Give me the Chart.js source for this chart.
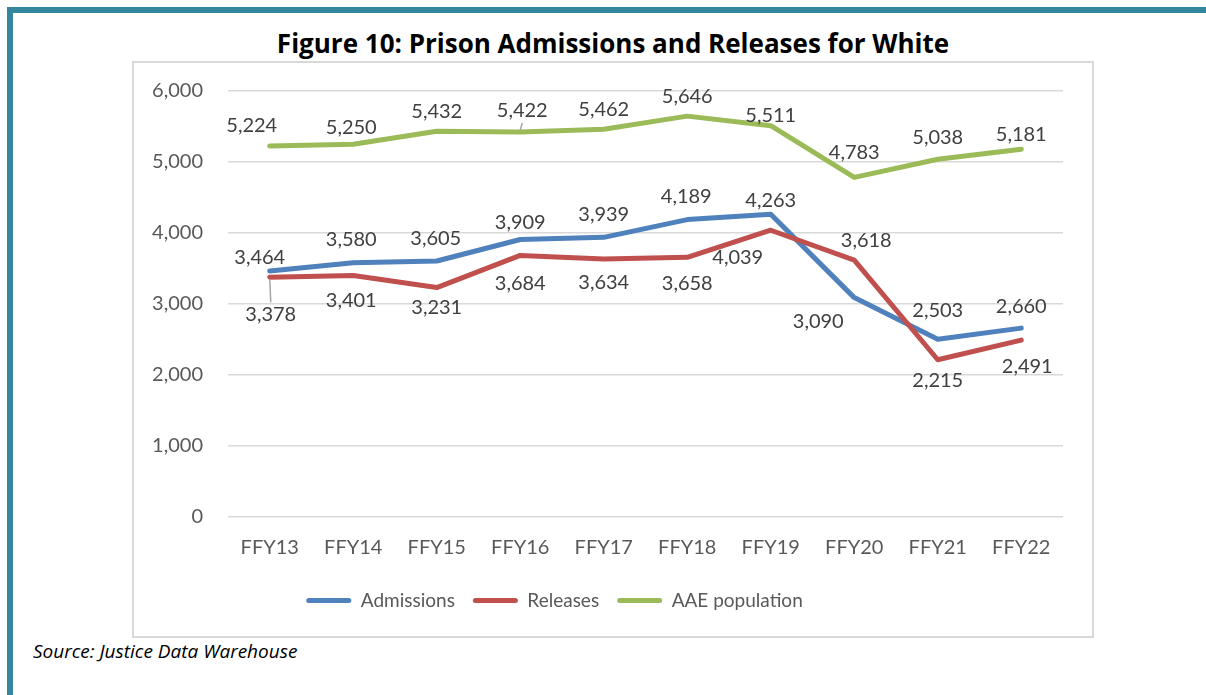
<!DOCTYPE html>
<html>
<head>
<meta charset="utf-8">
<script src="https://cdn.jsdelivr.net/npm/chart.js@4.4.1/dist/chart.umd.min.js"></script>
<style>
  body { margin: 0; background: #fff; width: 1206px; height: 695px; overflow: hidden; position: relative; font-family: Lato, sans-serif; }
  .frame { position: absolute; left: 7px; top: 7px; right: -10px; bottom: -10px; border-top: 6px solid #33869D; border-left: 6px solid #33869D; }
  .title { position: absolute; left: 132px; width: 962px; top: 25px; text-align: center; font-family: 'Open Sans', sans-serif; font-weight: bold; font-size: 26px; color: #000; line-height: 36px; }
  .box { position: absolute; left: 132px; top: 61px; width: 958px; height: 573px; border: 2px solid #D9D9D9; }
  .source { position: absolute; left: 33px; top: 638px; font-family: 'Open Sans', sans-serif; font-style: italic; font-size: 19px; color: #000; line-height: 26px; }
</style>
</head>
<body>
<div class="frame"></div>
<div class="title">Figure 10: Prison Admissions and Releases for White</div>
<div class="box"><canvas id="chart"></canvas></div>
<div class="source">Source: Justice Data Warehouse</div>
<script>
// data
const categories = ['FFY13', 'FFY14', 'FFY15', 'FFY16', 'FFY17', 'FFY18', 'FFY19', 'FFY20', 'FFY21', 'FFY22'];
const admissions = [3464, 3580, 3605, 3909, 3939, 4189, 4263, 3090, 2503, 2660];
const releases = [3378, 3401, 3231, 3684, 3634, 3658, 4039, 3618, 2215, 2491];
const aaePopulation = [5224, 5250, 5432, 5422, 5462, 5646, 5511, 4783, 5038, 5181];

// label placement (dx, dy from the point, leader line)
const labelOffsets = [
    [[-10, -14], [-2, -23], [-1, -22], [0, -17], [0, -23], [-1, -23], [0, -14], [-36, 24], [0, -29], [0, -22]],
    [[1, 37, true], [-2, 25], [0, 20], [0, 28], [0, 24], [0, 26], [-33, 27], [12, -20], [0, 21], [6, 26]],
    [[-18, -21], [-2, -17], [0, -20], [2, -21, true], [0, -20], [0, -20], [0, -10], [0, -25], [0, -22], [0, -15]]
];

const valueLabels = {
    id: 'valueLabels',
    afterDatasetsDraw(chart) {
        const ctx = chart.ctx;
        ctx.save();
        ctx.font = '20px Lato';
        ctx.fillStyle = '#404040';
        ctx.textAlign = 'center';
        ctx.textBaseline = 'middle';
        chart.data.datasets.forEach((ds, di) => {
            const meta = chart.getDatasetMeta(di);
            meta.data.forEach((pt, i) => {
                const off = labelOffsets[di][i];
                const lx = pt.x + off[0];
                const ly = pt.y + off[1];
                if (off[2]) {
                    const s = off[1] > 0 ? 1 : -1;
                    ctx.strokeStyle = '#A6A6A6';
                    ctx.lineWidth = 1.5;
                    ctx.beginPath();
                    ctx.moveTo(pt.x, pt.y + s * 2);
                    ctx.lineTo(lx, ly - s * 12);
                    ctx.stroke();
                }
                ctx.fillText(ds.data[i].toLocaleString('en-US'), lx, ly);
            });
        });
        ctx.restore();
    }
};

// legend sits left of centre in the original
const legendShift = {
    id: 'legendShift',
    afterLayout(chart) {
        chart.legend.left -= 44;
        chart.legend.right -= 44;
    }
};

const ctx = document.getElementById('chart').getContext('2d');
new Chart(ctx, {
    type: 'line',
    data: {
        labels: categories,
        datasets: [
            { label: 'Admissions', data: admissions, borderColor: '#4F81BD', backgroundColor: '#4F81BD', order: 3 },
            { label: 'Releases', data: releases, borderColor: '#C0504D', backgroundColor: '#C0504D', order: 2 },
            { label: 'AAE population', data: aaePopulation, borderColor: '#9BBB59', backgroundColor: '#9BBB59', order: 1 }
        ]
    },
    options: {
        responsive: true,
        maintainAspectRatio: false,
        animation: false,
        layout: { padding: { left: 0, right: 29, top: 28, bottom: 16 } },
        elements: {
            line: { borderWidth: 5, tension: 0, borderCapStyle: 'round', borderJoinStyle: 'round' },
            point: { radius: 0, hoverRadius: 0 }
        },
        scales: {
            x: {
                offset: true,
                afterFit: (scale) => { scale.height = 56; },
                grid: { display: false, drawTicks: false },
                border: { display: false },
                ticks: { color: '#595959', font: { family: 'Lato', size: 20 }, padding: 19, maxRotation: 0 }
            },
            y: {
                min: 0,
                max: 6000,
                afterFit: (scale) => { scale.width = 94; scale.paddingTop = 0; scale.paddingBottom = 0; },
                grid: { color: '#D9D9D9', lineWidth: 1.5, drawTicks: false },
                border: { display: false },
                ticks: {
                    stepSize: 1000,
                    color: '#595959',
                    font: { family: 'Lato', size: 20 },
                    padding: 25,
                    callback: (v) => v.toLocaleString('en-US')
                }
            }
        },
        plugins: {
            legend: {
                position: 'bottom',
                labels: {
                    color: '#595959',
                    font: { family: 'Lato', size: 19 },
                    boxWidth: 45,
                    boxHeight: 5,
                    padding: 18,
                    useBorderRadius: true,
                    borderRadius: 2.5,
                    sort: (a, b) => a.datasetIndex - b.datasetIndex,
                    generateLabels(chart) {
                        const items = Chart.defaults.plugins.legend.labels.generateLabels(chart);
                        items.forEach(it => { it.lineWidth = 0; it.strokeStyle = 'rgba(0,0,0,0)'; });
                        return items;
                    }
                }
            },
            tooltip: { enabled: false }
        }
    },
    plugins: [valueLabels, legendShift]
});
</script>
</body>
</html>
